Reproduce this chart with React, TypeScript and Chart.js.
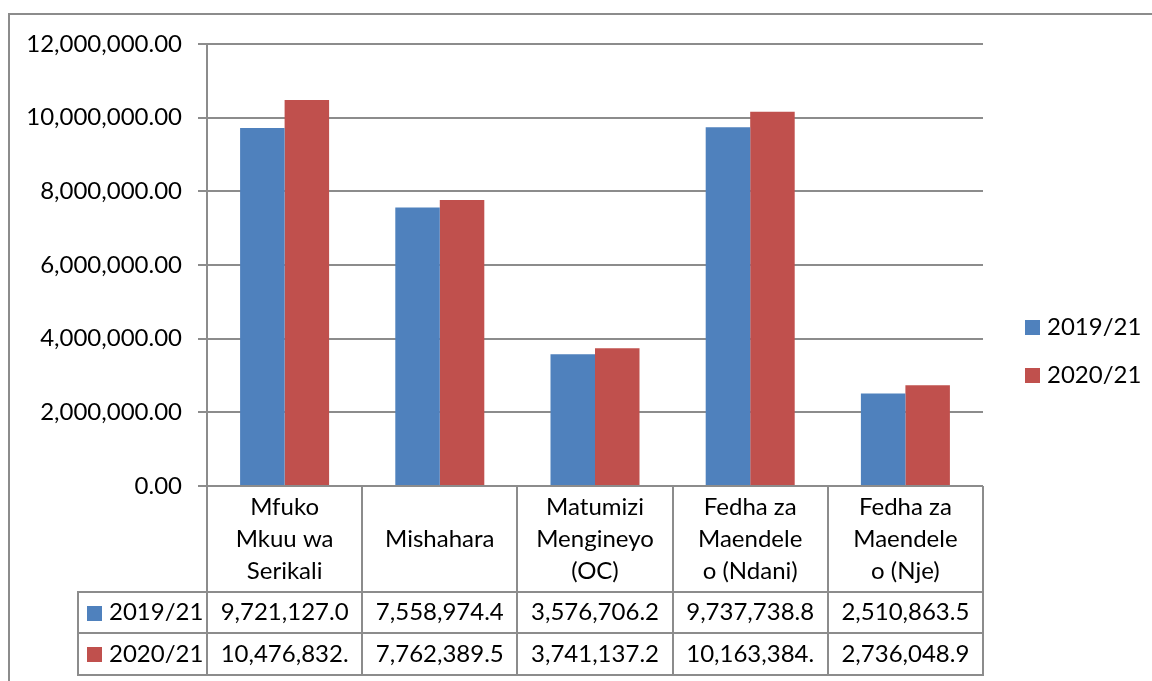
import React, { useEffect, useRef } from "react";
import { Chart, registerables } from "chart.js";

Chart.register(...registerables);

// ---- Data ----
const categories: string[][] = [
  ["Mfuko", "Mkuu wa", "Serikali"],
  ["Mishahara"],
  ["Matumizi", "Mengineyo", "(OC)"],
  ["Fedha za", "Maendele", "o (Ndani)"],
  ["Fedha za", "Maendele", "o (Nje)"],
];
const seriesLabels = ["2019/21", "2020/21"];
const values2019 = [9721127.0, 7558974.4, 3576706.2, 9737738.8, 2510863.5];
const values2020 = [10476832.0, 7762389.5, 3741137.2, 10163384.0, 2736048.9];
const seriesColors = ["#4F81BD", "#C0504D"];
const yMin = 0;
const yMax = 12000000;
const yStep = 2000000;

const FONT = "Lato";
const LINE = "#8c8c8c";

const fmt2 = (v: number) =>
  v.toLocaleString("en-US", { minimumFractionDigits: 2, maximumFractionDigits: 2 });
const fmt1 = (v: number) =>
  v.toLocaleString("en-US", { minimumFractionDigits: 1, maximumFractionDigits: 1 });

const tablePlugin = {
  id: "dataTable",
  beforeDraw(chart: any) {
    const ctx = chart.ctx;
    ctx.save();
    ctx.strokeStyle = LINE;
    ctx.lineWidth = 2;
    ctx.beginPath();
    ctx.moveTo(9, chart.height + 2);
    ctx.lineTo(9, 14);
    ctx.lineTo(chart.width + 2, 14);
    ctx.stroke();
    ctx.restore();
  },
  afterDraw(chart: any) {
    const ctx = chart.ctx;
    const area = chart.chartArea;
    const xs = chart.scales.x;
    const n = categories.length;
    const w = (area.right - area.left) / n;
    const top = area.bottom;
    const headerBottom = top + 106;
    const row1Bottom = headerBottom + 41;
    const row2Bottom = row1Bottom + 42;
    const tableLeft = 78;
    const series = [values2019, values2020];

    ctx.save();
    ctx.strokeStyle = LINE;
    ctx.lineWidth = 2;
    ctx.beginPath();
    // vertical lines at category boundaries
    for (let i = 0; i <= n; i++) {
      const x = Math.round(area.left + i * w);
      ctx.moveTo(x, top);
      ctx.lineTo(x, row2Bottom);
    }
    // left border of data rows
    ctx.moveTo(tableLeft, headerBottom);
    ctx.lineTo(tableLeft, row2Bottom);
    // horizontal lines
    [headerBottom, row1Bottom, row2Bottom].forEach((y) => {
      ctx.moveTo(tableLeft - 1, y);
      ctx.lineTo(area.right + 1, y);
    });
    ctx.stroke();

    ctx.fillStyle = "#000";
    ctx.font = `24px ${FONT}`;
    ctx.textAlign = "center";
    ctx.textBaseline = "middle";
    const lh = 32;
    const headerMid = (top + headerBottom) / 2;
    categories.forEach((lines, i) => {
      const cx = xs.getPixelForValue(i);
      const startY = headerMid - ((lines.length - 1) * lh) / 2;
      lines.forEach((ln, j) => ctx.fillText(ln, cx, startY + j * lh));
    });

    const rowMids = [(headerBottom + row1Bottom) / 2, (row1Bottom + row2Bottom) / 2];
    series.forEach((vals, s) => {
      const cy = rowMids[s];
      vals.forEach((v, i) => {
        const cx = xs.getPixelForValue(i);
        let t = fmt1(v);
        const maxW = w - 22;
        while (ctx.measureText(t).width > maxW && t.length > 1) t = t.slice(0, -1);
        ctx.fillText(t, cx, cy);
      });
      // legend key in table
      ctx.fillStyle = seriesColors[s];
      ctx.fillRect(tableLeft + 9, Math.round(cy - 7), 15, 15);
      ctx.fillStyle = "#000";
      ctx.textAlign = "left";
      ctx.fillText(seriesLabels[s], tableLeft + 31, cy);
      ctx.textAlign = "center";
    });

    // side legend
    const legX = area.right + 42;
    const legY = [327, 375];
    seriesLabels.forEach((lab, s) => {
      ctx.fillStyle = seriesColors[s];
      ctx.fillRect(legX, legY[s] - 7, 15, 15);
      ctx.fillStyle = "#000";
      ctx.textAlign = "left";
      ctx.fillText(lab, legX + 22, legY[s]);
    });
    ctx.restore();
  },
};

export default function App() {
  const ref = useRef<HTMLCanvasElement>(null);
  useEffect(() => {
    if (!ref.current) return;
    const chart = new Chart(ref.current, {
      type: "bar",
      data: {
        labels: categories,
        datasets: [
          {
            label: seriesLabels[0],
            data: values2019,
            backgroundColor: seriesColors[0],
            categoryPercentage: 0.5735,
            barPercentage: 1,
          },
          {
            label: seriesLabels[1],
            data: values2020,
            backgroundColor: seriesColors[1],
            categoryPercentage: 0.5735,
            barPercentage: 1,
          },
        ],
      },
      options: {
        responsive: false,
        animation: false,
        layout: { padding: { top: 44, right: 169, left: 0, bottom: 0 } },
        plugins: { legend: { display: false }, tooltip: { enabled: false } },
        scales: {
          x: {
            grid: { display: false },
            border: { display: false },
            ticks: { display: false },
            afterFit: (scale: any) => {
              scale.height = 195;
            },
          },
          y: {
            min: yMin,
            max: yMax,
            ticks: {
              stepSize: yStep,
              color: "#000",
              font: { family: FONT, size: 24 },
              padding: 16,
              callback: (v: any) => fmt2(Number(v)),
            },
            grid: { color: LINE, lineWidth: 2, tickLength: 9, drawTicks: true },
            border: { display: true, color: LINE, width: 2 },
            afterFit: (scale: any) => {
              scale.width = 207;
            },
          },
        },
      },
      plugins: [tablePlugin],
    });
    return () => chart.destroy();
  }, []);
  return (
    <div style={{ position: "absolute", left: 0, top: 0, width: 1152, height: 681, background: "#fff" }}>
      <canvas ref={ref} width={1152} height={681} />
    </div>
  );
}
